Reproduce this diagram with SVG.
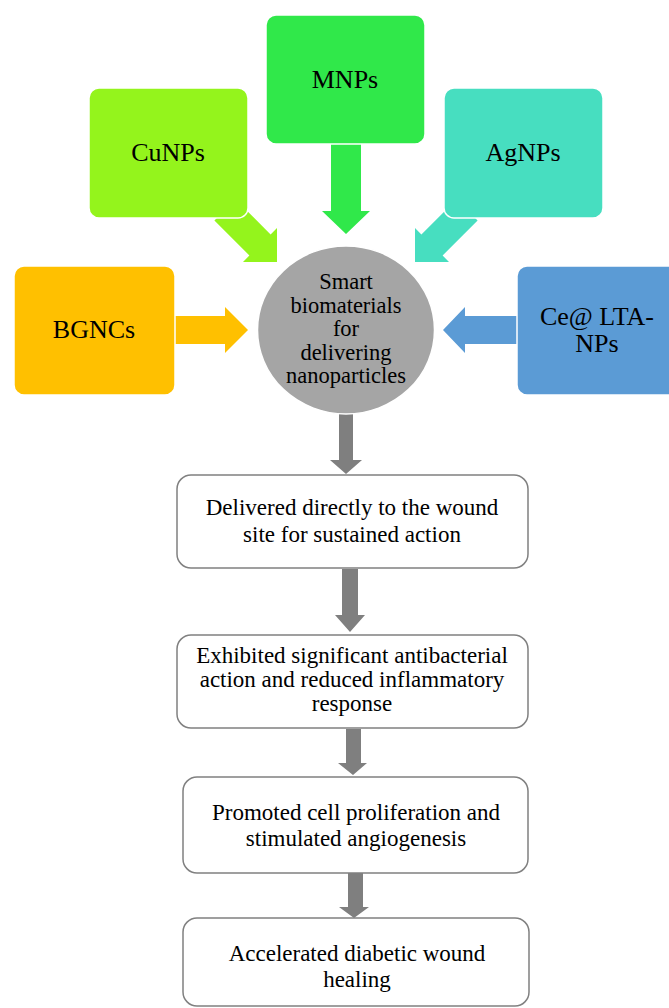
<svg xmlns="http://www.w3.org/2000/svg" width="669" height="1008" viewBox="0 0 669 1008">
<style>
.lbl{font-family:"Liberation Serif","Times New Roman",serif;fill:#000;text-anchor:middle}
.big{font-size:26px}
.mid{font-size:22.5px}
.flow{fill:#fff;stroke:#808080;stroke-width:1.5}
.src{stroke:#fff;stroke-width:1.5}
.garrow{fill:#7f7f7f}
</style>
<rect width="669" height="1008" fill="#fff"/>
<g id="connectors">
  <polygon fill="#94f41c" points="235.6,199.4 270.6,234.4 277,228 277,262 243,262 249.4,255.6 214.4,220.6"/>
  <polygon fill="#30e84a" points="331,140 361,140 361,211 370,211 346,234 322,211 331,211"/>
  <polygon fill="#47dec0" points="456.4,199.4 421.4,234.4 415,228 415,262 449,262 442.6,255.6 477.6,220.6"/>
  <polygon fill="#ffc000" points="172,316 225,316 225,307 248,330 225,353 225,344 172,344"/>
  <polygon fill="#5b9bd5" points="520,316 465,316 465,307 443,330 465,353 465,344 520,344"/>
  <polygon class="garrow" points="339,413 353,413 353,460 362,460 346,474 330,460 339,460"/>
  <polygon class="garrow" points="342,569 358,569 358,615 365,615 350,632 335,615 342,615"/>
  <polygon class="garrow" points="346,729 361,729 361,763 367,763 353,775 338,763 346,763"/>
  <polygon class="garrow" points="348,873 363,873 363,907 369,907 354,918 339,907 348,907"/>
</g>
<g id="node-cunps">
  <rect class="src" x="89" y="88" width="159" height="130" rx="10" fill="#94f41c"/>
  <text class="lbl big" x="168" y="161">CuNPs</text>
</g>
<g id="node-mnps">
  <rect class="src" x="266" y="15" width="159" height="129" rx="10" fill="#30e84a"/>
  <text class="lbl big" x="345" y="88">MNPs</text>
</g>
<g id="node-agnps">
  <rect class="src" x="444" y="88" width="159" height="130" rx="10" fill="#47dec0"/>
  <text class="lbl big" x="523" y="161">AgNPs</text>
</g>
<g id="node-bgncs">
  <rect class="src" x="14" y="266" width="161" height="129" rx="10" fill="#ffc000"/>
  <text class="lbl big" x="94" y="338">BGNCs</text>
</g>
<g id="node-ce">
  <rect class="src" x="517" y="266" width="162" height="129" rx="10" fill="#5b9bd5"/>
  <text class="lbl big" x="597" y="325">Ce@ LTA-</text>
  <text class="lbl big" x="597" y="352">NPs</text>
</g>
<g id="node-smart">
  <ellipse cx="346" cy="330" rx="88.5" ry="84" fill="#a5a5a5" stroke="#fff" stroke-width="1.5"/>
  <text class="lbl mid" x="346" y="289">Smart</text>
  <text class="lbl mid" x="346" y="312.5">biomaterials</text>
  <text class="lbl mid" x="346" y="336">for</text>
  <text class="lbl mid" x="346" y="359.5">delivering</text>
  <text class="lbl mid" x="346" y="383">nanoparticles</text>
</g>
<g id="node-delivered">
  <rect class="flow" x="177" y="475" width="351" height="93" rx="14"/>
  <text class="lbl mid" x="352" y="515" style="font-size:23px">Delivered directly to the wound</text>
  <text class="lbl mid" x="352" y="542" style="font-size:23px">site for sustained action</text>
</g>
<g id="node-exhibited">
  <rect class="flow" x="177" y="635" width="351" height="93" rx="14"/>
  <text class="lbl mid" x="352" y="663" style="font-size:23px">Exhibited significant antibacterial</text>
  <text class="lbl mid" x="352" y="687" style="font-size:23px">action and reduced inflammatory</text>
  <text class="lbl mid" x="352" y="711" style="font-size:23px">response</text>
</g>
<g id="node-promoted">
  <rect class="flow" x="183" y="777" width="345" height="96" rx="14"/>
  <text class="lbl mid" x="356" y="820" style="font-size:23px">Promoted cell proliferation and</text>
  <text class="lbl mid" x="356" y="846" style="font-size:23px">stimulated angiogenesis</text>
</g>
<g id="node-accelerated">
  <rect class="flow" x="183" y="918" width="346" height="88" rx="14"/>
  <text class="lbl mid" x="357" y="961" style="font-size:23px">Accelerated diabetic wound</text>
  <text class="lbl mid" x="357" y="987" style="font-size:23px">healing</text>
</g>
</svg>
